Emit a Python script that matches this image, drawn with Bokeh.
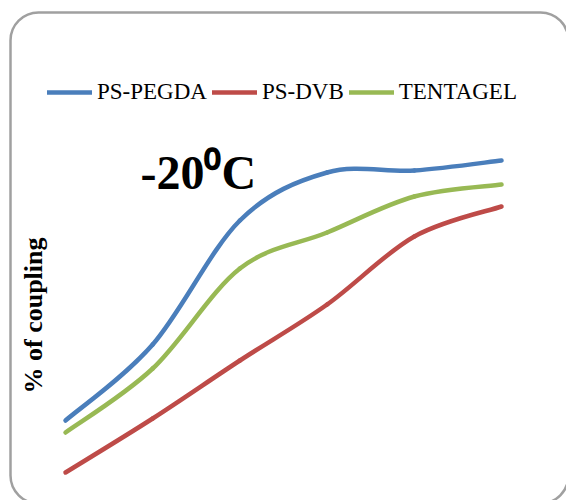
import numpy as np
from bokeh.plotting import figure
from bokeh.models import Legend, LegendItem, Label, BoxAnnotation, Range1d
from bokeh.embed import file_html
from bokeh.resources import INLINE

# Coupling yield (%) at -20 °C for each resin, at six successive sampling steps
steps = [1, 2, 3, 4, 5, 6]
ps_pegda = [20, 39, 70, 82, 82.5, 85]
ps_dvb = [7, 20.5, 35, 49, 66, 73.5]
tentagel = [17, 33, 58, 67, 76, 79]

series_names = ["PS-PEGDA", "PS-DVB", "TENTAGEL"]
series_values = [ps_pegda, ps_dvb, tentagel]
series_colors = ["#4A7EBB", "#BE4B48", "#98B954"]

W, H = 566, 500
SERIF = "Liberation Serif"


def smooth_segments(xs, ys):
    """Cubic Bezier pieces through every point (Catmull-Rom style handles)."""
    x = np.asarray(xs, dtype=float)
    y = np.asarray(ys, dtype=float)
    xp = np.concatenate([[x[0]], x, [x[-1]]])
    yp = np.concatenate([[y[0]], y, [y[-1]]])
    n = len(x) - 1
    seg = dict(x0=[], y0=[], x1=[], y1=[], cx0=[], cy0=[], cx1=[], cy1=[])
    for i in range(n):
        x0, x1, x2, x3 = xp[i:i + 4]
        y0, y1, y2, y3 = yp[i:i + 4]
        seg["x0"].append(x1)
        seg["y0"].append(y1)
        seg["x1"].append(x2)
        seg["y1"].append(y2)
        seg["cx0"].append(x1 + (x2 - x0) / 6.0)
        seg["cy0"].append(y1 + (y2 - y0) / 6.0)
        seg["cx1"].append(x2 - (x3 - x1) / 6.0)
        seg["cy1"].append(y2 - (y3 - y1) / 6.0)
    return seg


p = figure(
    width=W, height=H,
    x_range=Range1d(0.2546, 6.745), y_range=Range1d(0, 125),
    x_axis_location=None, y_axis_location=None,
    toolbar_location=None, output_backend="svg",
    min_border=0, min_border_left=0, min_border_right=0,
    min_border_top=0, min_border_bottom=0,
)
p.grid.visible = False
p.outline_line_color = None
p.background_fill_color = "white"
p.border_fill_color = "white"

# rounded chart-area frame
p.add_layout(BoxAnnotation(
    left=10, right=568, top=H - 12, bottom=-3,
    left_units="screen", right_units="screen",
    top_units="screen", bottom_units="screen",
    fill_alpha=0, line_color="#a0a0a0", line_alpha=1.0, line_width=2.5,
    border_radius=28,
))

items = []
for name, vals, col in zip(series_names, series_values, series_colors):
    seg = smooth_segments(steps, vals)
    r = p.bezier(x0="x0", y0="y0", x1="x1", y1="y1",
                 cx0="cx0", cy0="cy0", cx1="cx1", cy1="cy1",
                 source=seg, line_color=col, line_width=4.5, line_cap="round")
    items.append(LegendItem(label=name, renderers=[r]))

legend = Legend(
    items=items, orientation="horizontal",
    location=(47, H - 105), padding=0, margin=0, spacing=5,
    glyph_width=45, glyph_height=20, label_standoff=5,
    label_text_font=SERIF, label_text_font_size="23px", label_text_color="#000000",
    background_fill_alpha=0, border_line_color=None,
)
p.add_layout(legend)

p.add_layout(Label(
    x=140, y=H - 172, x_units="screen", y_units="screen",
    text="-20⁰C", text_font=SERIF, text_font_style="bold",
    text_font_size="48px", text_color="#000000", text_baseline="alphabetic",
))

p.add_layout(Label(
    x=33, y=H - 315, x_units="screen", y_units="screen",
    text="% of coupling", angle=np.pi / 2,
    text_font=SERIF, text_font_style="bold", text_font_size="26px",
    text_color="#000000", text_align="center", text_baseline="middle",
))

open("out.html", "w").write(file_html(p, INLINE))
